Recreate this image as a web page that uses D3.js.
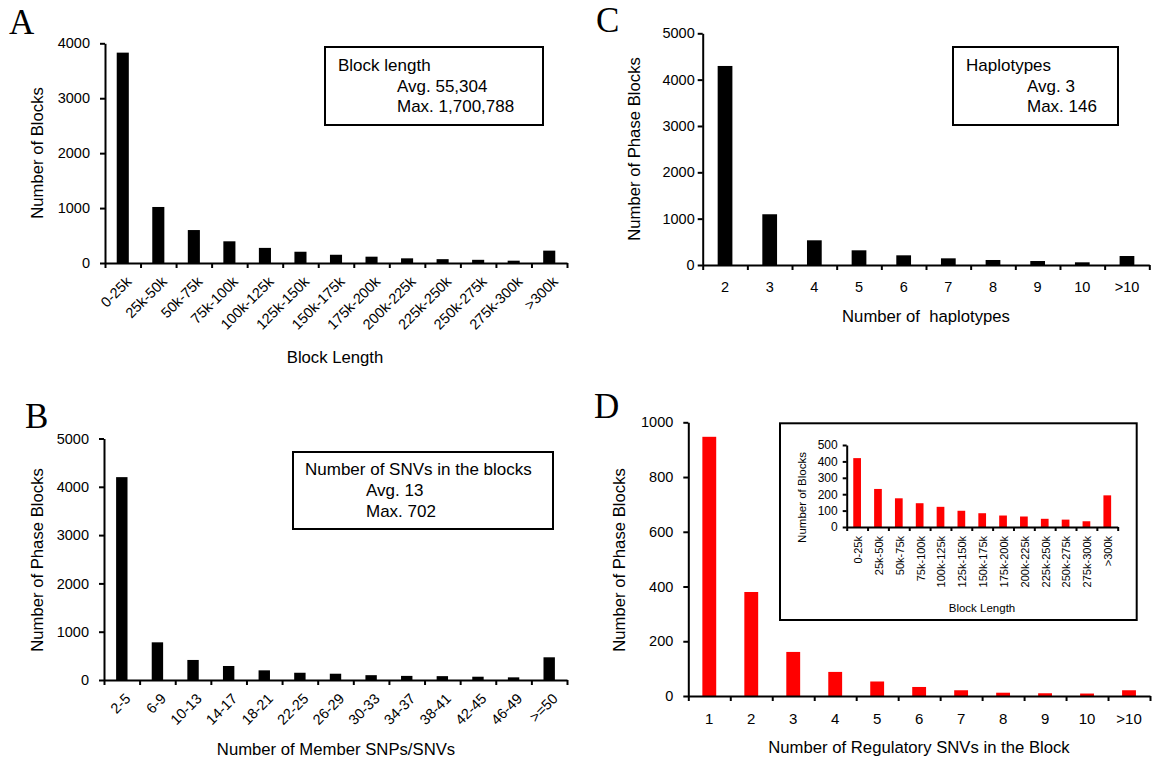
<!DOCTYPE html>
<html>
<head>
<meta charset="utf-8">
<script src="https://cdn.jsdelivr.net/npm/d3@7"></script>
<style>
  body { margin: 0; background: #fff; }
  svg text { font-family: "Liberation Sans", Arial, sans-serif; fill: #000; }
  .axis path, .axis line { stroke: #000; stroke-width: 2px; }
  .plabel { font-family: "Liberation Serif", "Times New Roman", serif !important; }
</style>
</head>
<body>
<svg id="fig" width="1156" height="765"></svg>
<script>
// Panel A: block length
var lengthBins = ['0-25k', '25k-50k', '50k-75k', '75k-100k', '100k-125k', '125k-150k', '150k-175k',
                  '175k-200k', '200k-225k', '225k-250k', '250k-275k', '275k-300k', '>300k'];
var blockCounts = [3830, 1020, 600, 395, 275, 205, 150, 115, 85, 70, 58, 42, 225];
var blockTicks = [0, 1000, 2000, 3000, 4000];

// Panel B: member SNVs per block
var snvBins = ['2-5', '6-9', '10-13', '14-17', '18-21', '22-25', '26-29', '30-33', '34-37',
               '38-41', '42-45', '46-49', '>=50'];
var snvCounts = [4200, 780, 415, 290, 200, 150, 130, 100, 85, 80, 68, 55, 470];
var phaseTicks = [0, 1000, 2000, 3000, 4000, 5000];

// Panel C: haplotypes per block
var haploBins = ['2', '3', '4', '5', '6', '7', '8', '9', '10', '>10'];
var haploCounts = [4295, 1095, 533, 317, 209, 144, 108, 86, 58, 194];

// Panel D: regulatory SNVs per block, plus inset of block length
var regBins = ['1', '2', '3', '4', '5', '6', '7', '8', '9', '10', '>10'];
var regCounts = [947, 380, 161, 88, 53, 33, 21, 12, 10, 9, 21];
var regTicks = [0, 200, 400, 600, 800, 1000];
var insetCounts = [420, 232, 175, 145, 123, 99, 84, 70, 64, 50, 45, 35, 193];
var insetTicks = [0, 100, 200, 300, 400, 500];

var svg = d3.select('#fig');

// draws one bar chart; ticks on x sit between the bars like Excel does
function barPanel(o) {
  var g = svg.append('g');
  var n = o.cats.length;

  var x = d3.scaleBand().domain(o.cats).range([o.left, o.right]);
  var y = d3.scaleLinear().domain([0, d3.max(o.ticks)]).range([o.bottom, o.top]);
  var edges = d3.scaleLinear().domain([0, n]).range([o.left, o.right]);
  var bw = x.bandwidth() * o.barFrac;

  g.selectAll('rect.bar')
    .data(o.values)
    .enter()
    .append('rect')
    .attr('class', 'bar')
    .attr('x', function(d, i) { return x(o.cats[i]) + (x.bandwidth() - bw) / 2; })
    .attr('y', function(d) { return y(d); })
    .attr('width', bw)
    .attr('height', function(d) { return o.bottom - y(d); })
    .attr('fill', o.color);

  // y axis
  var ya = g.append('g')
    .attr('class', 'axis')
    .attr('transform', 'translate(' + o.left + ',0)')
    .call(d3.axisLeft(y).tickValues(o.ticks).tickFormat(d3.format('d'))
      .tickSize(o.tick).tickSizeOuter(0).tickPadding(o.yPad));
  ya.attr('font-family', null).attr('font-size', o.yFont);

  // x axis line with boundary ticks
  g.append('g')
    .attr('class', 'axis')
    .attr('transform', 'translate(0,' + o.bottom + ')')
    .call(d3.axisBottom(edges).tickValues(d3.range(n + 1)).tickFormat('').tickSize(o.tick).tickSizeOuter(0));

  // category labels
  var xl = g.append('g')
    .attr('transform', 'translate(0,' + o.bottom + ')')
    .call(d3.axisBottom(x).tickSize(0));
  xl.select('.domain').remove();
  xl.attr('font-family', null).attr('font-size', o.xFont);
  var t = xl.selectAll('text');
  if (o.rotate == -45) {
    t.attr('x', 0).attr('y', 0).attr('dy', '0.35em')
     .attr('text-anchor', 'end')
     .attr('transform', 'translate(' + o.lblDx + ',' + o.lblDy + ') rotate(-45)');
  } else if (o.rotate == -90) {
    t.attr('x', 0).attr('y', 0).attr('dy', '0.35em')
     .attr('text-anchor', 'end')
     .attr('transform', 'translate(' + o.lblDx + ',' + o.lblDy + ') rotate(-90)');
  } else {
    t.attr('y', o.lblDy).attr('dy', 0);
  }

  // axis titles
  g.append('text')
    .attr('x', o.xTitle[1]).attr('y', o.xTitle[2])
    .attr('text-anchor', 'middle')
    .attr('font-size', o.titleFont)
    .style('white-space', 'pre')
    .text(o.xTitle[0]);

  g.append('text')
    .attr('transform', 'translate(' + o.yTitle[1] + ',' + o.yTitle[2] + ') rotate(-90)')
    .attr('dy', '0.35em')
    .attr('text-anchor', 'middle')
    .attr('font-size', o.titleFont)
    .text(o.yTitle[0]);
}

function infoBox(x0, y0, w, h, lines) {
  svg.append('rect')
    .attr('x', x0).attr('y', y0).attr('width', w).attr('height', h)
    .attr('fill', '#fff').attr('stroke', '#000').attr('stroke-width', 2);
  lines.forEach(function(l) {
    svg.append('text')
      .attr('x', l[1]).attr('y', l[2])
      .attr('font-size', 17)
      .text(l[0]);
  });
}

function panelLabel(s, x0, y0) {
  svg.append('text')
    .attr('class', 'plabel')
    .attr('x', x0).attr('y', y0)
    .attr('font-size', 35)
    .text(s);
}

// A
barPanel({
  cats: lengthBins, values: blockCounts, ticks: blockTicks, color: '#000',
  left: 105, right: 567, top: 43.3, bottom: 263, barFrac: 0.34,
  tick: 5, yPad: 10, yFont: 14.5, xFont: 14.5, rotate: -45, lblDx: 6, lblDy: 16,
  titleFont: 16.7, xTitle: ['Block Length', 335, 363], yTitle: ['Number of Blocks', 37, 153]
});
infoBox(325, 47, 218, 78, [
  ['Block length', 338, 70.5],
  ['Avg. 55,304', 397, 91.5],
  ['Max. 1,700,788', 397, 112]
]);
panelLabel('A', 9, 34);

// B
barPanel({
  cats: snvBins, values: snvCounts, ticks: phaseTicks, color: '#000',
  left: 104, right: 567, top: 438.5, bottom: 680, barFrac: 0.32,
  tick: 5, yPad: 10, yFont: 14.5, xFont: 14.5, rotate: -45, lblDx: 6, lblDy: 16,
  titleFont: 16.7, xTitle: ['Number of Member SNPs/SNVs', 336, 755], yTitle: ['Number of Phase Blocks', 37, 560]
});
infoBox(293, 452, 260, 77, [
  ['Number of SNVs in the blocks', 305, 474.5],
  ['Avg. 13', 366, 495.5],
  ['Max. 702', 366, 516.5]
]);
panelLabel('B', 25, 428);

// C
barPanel({
  cats: haploBins, values: haploCounts, ticks: phaseTicks, color: '#000',
  left: 702.7, right: 1149.3, top: 33.3, bottom: 265, barFrac: 0.33,
  tick: 5, yPad: 3, yFont: 14.5, xFont: 14.5, rotate: 0, lblDy: 27,
  titleFont: 16.7, xTitle: ['Number of  haplotypes', 926, 322], yTitle: ['Number of Phase Blocks', 634, 149]
});
infoBox(953, 47, 165, 78, [
  ['Haplotypes', 966, 70.5],
  ['Avg. 3', 1027, 91.5],
  ['Max. 146', 1027, 112]
]);
panelLabel('C', 596, 32);

// D
barPanel({
  cats: regBins, values: regCounts, ticks: regTicks, color: '#ff0000',
  left: 688.3, right: 1150, top: 422.3, bottom: 696, barFrac: 0.33,
  tick: 5, yPad: 10, yFont: 14.5, xFont: 15, rotate: 0, lblDy: 27.5,
  titleFont: 16.7, xTitle: ['Number of Regulatory SNVs in the Block', 919, 753], yTitle: ['Number of Phase Blocks', 619, 560]
});
panelLabel('D', 594, 418);

// inset inside D
svg.append('rect')
  .attr('x', 780).attr('y', 423.3).attr('width', 356.7).attr('height', 196.7)
  .attr('fill', '#fff').attr('stroke', '#000').attr('stroke-width', 2);
barPanel({
  cats: lengthBins, values: insetCounts, ticks: insetTicks, color: '#ff0000',
  left: 846.7, right: 1117.7, top: 445, bottom: 527, barFrac: 0.37,
  tick: 4, yPad: 5, yFont: 12, xFont: 11, rotate: -90, lblDx: 1, lblDy: 9,
  titleFont: 11.5, xTitle: ['Block Length', 982, 612], yTitle: ['Number of Blocks', 801.7, 497.5]
});
</script>
</body>
</html>
